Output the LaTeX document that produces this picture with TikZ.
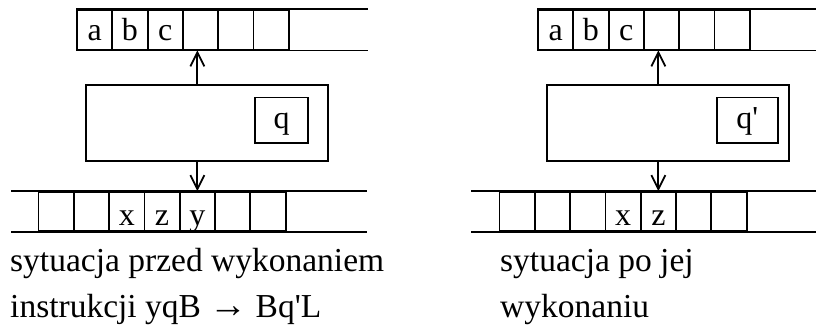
\documentclass[tikz,border=0pt]{standalone}
\usepackage{fontspec}
\newfontfamily\tapefont{Liberation Serif}
\usetikzlibrary{arrows.meta, positioning}
\tikzstyle{cell} = [rectangle, draw=black, line width=1.8pt, minimum width=35.3pt, minimum height=39.5pt, inner sep=0pt, text height=22pt, text depth=0pt, font=\tapefont\fontsize{32}{38}\selectfont]
\tikzstyle{cellB} = [cell, minimum height=39pt, text height=27pt]
\tikzstyle{unit} = [rectangle, draw=black, line width=1.8pt, minimum width=242pt, minimum height=76pt, inner sep=0pt]
\tikzstyle{state} = [rectangle, draw=black, line width=1.8pt, minimum height=45.5pt, inner sep=0pt, text height=16pt, text depth=0pt, font=\tapefont\fontsize{32}{38}\selectfont]
\tikzstyle{tape} = [line width=1.8pt, draw=black]
\tikzstyle{arrow} = [line width=1.8pt, -{Straight Barb[length=14pt,width=14pt]}, draw=black]
\tikzstyle{caption} = [anchor=base west, align=left, inner sep=0pt, font=\tapefont\fontsize{33.5}{45.5}\selectfont]

\begin{document}
\begin{tikzpicture}[x=1pt, y=-1pt, node distance=35.3pt]
    \useasboundingbox (0,0) rectangle (816,327);

    % before
    \node (lt1) [cell] at (94.65,29.75) {a};
    \node (lt2) [cell, right of=lt1] {b};
    \node (lt3) [cell, right of=lt2] {c};
    \node (lt4) [cell, right of=lt3] {};
    \node (lt5) [cell, right of=lt4] {};
    \node (lt6) [cell, right of=lt5] {};
    \coordinate (ltR) at (368,29.75);
    \draw [tape] (lt1.north west) -- (ltR |- lt1.north);
    \draw [tape] (lt1.south west) -- (ltR |- lt1.south);

    \node (lctrl) [unit] at (207,123) {};
    \node (lq) [state, minimum width=53pt] at (281.5,120.25) {q};

    \node (lb1) [cellB] at (56.15,211.5) {};
    \node (lb2) [cellB, right of=lb1] {};
    \node (lb3) [cellB, right of=lb2] {x};
    \node (lb4) [cellB, right of=lb3] {z};
    \node (lb5) [cellB, right of=lb4] {y};
    \node (lb6) [cellB, right of=lb5] {};
    \node (lb7) [cellB, right of=lb6] {};
    \coordinate (lbL) at (11,211.5);
    \coordinate (lbR) at (367,211.5);
    \draw [tape] (lbL |- lb1.north) -- (lbR |- lb1.north);
    \draw [tape] (lbL |- lb1.south) -- (lbR |- lb1.south);

    \draw [arrow] (lctrl.north -| lb5) -- (lb5 |- lt4.south);
    \draw [arrow] (lctrl.south -| lb5) -- (lb5.north);

    % base is the last line here
    \node (lcap) [caption] at (10,317) {sytuacja przed wykonaniem\\instrukcji yqB {\fontsize{38}{38}\selectfont →} Bq'L};

    % after
    \node (rt1) [cell] at (555.65,29.75) {a};
    \node (rt2) [cell, right of=rt1] {b};
    \node (rt3) [cell, right of=rt2] {c};
    \node (rt4) [cell, right of=rt3] {};
    \node (rt5) [cell, right of=rt4] {};
    \node (rt6) [cell, right of=rt5] {};
    \coordinate (rtR) at (816,29.75);
    \draw [tape] (rt1.north west) -- (rtR |- rt1.north);
    \draw [tape] (rt1.south west) -- (rtR |- rt1.south);

    \node (rctrl) [unit] at (667.85,123) {};
    \node (rq) [state, minimum width=61.3pt] at (747.35,120.25) {q'};

    \node (rb1) [cellB] at (517.15,211.5) {};
    \node (rb2) [cellB, right of=rb1] {};
    \node (rb3) [cellB, right of=rb2] {};
    \node (rb4) [cellB, right of=rb3] {x};
    \node (rb5) [cellB, right of=rb4] {z};
    \node (rb6) [cellB, right of=rb5] {};
    \node (rb7) [cellB, right of=rb6] {};
    \coordinate (rbL) at (471,211.5);
    \coordinate (rbR) at (816,211.5);
    \draw [tape] (rbL |- rb1.north) -- (rbR |- rb1.north);
    \draw [tape] (rbL |- rb1.south) -- (rbR |- rb1.south);

    \draw [arrow] (rctrl.north -| rb5) -- (rb5 |- rt4.south);
    \draw [arrow] (rctrl.south -| rb5) -- (rb5.north);

    \node (rcap) [caption] at (500,317) {sytuacja po jej\\wykonaniu};
\end{tikzpicture}
\end{document}
